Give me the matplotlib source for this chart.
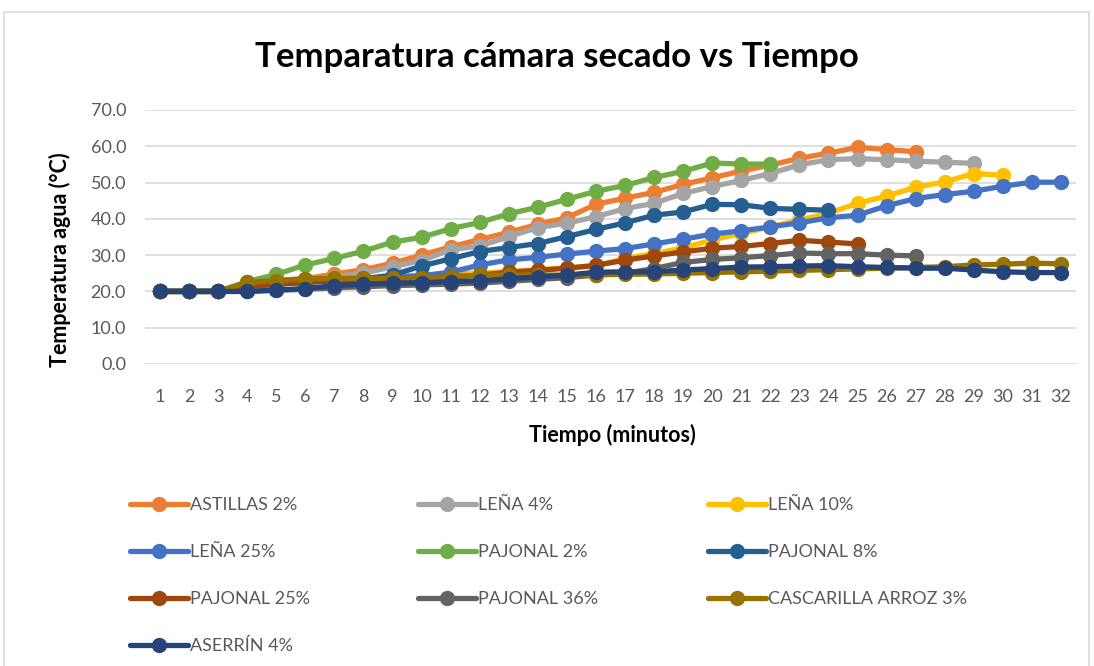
import matplotlib
matplotlib.use("Agg")
import matplotlib.pyplot as plt
from matplotlib.patches import Rectangle

plt.rcParams['font.family'] = ['Lato', 'DejaVu Sans']

minutes = list(range(1, 33))

astillas_2 = [20, 20, 20, 22.5, 23, 23.5, 24.8, 26, 27.8, 30, 32.3, 34.3, 36.3, 38.5, 40.3,
              44, 45.7, 47.3, 49.5, 51.3, 53.2, 54.8, 56.7, 58.1, 59.7, 59.1, 58.5]
lena_4 = [20, 20, 20, 22.3, 22.8, 23.3, 24, 25, 26.8, 28.5, 31.5, 32.5, 35.1, 37.6, 38.8,
          40.6, 42.8, 44.3, 47, 48.9, 50.6, 52.5, 54.9, 56.3, 56.6, 56.3, 55.9, 55.6, 55.3]
lena_10 = [20, 20, 20, 21.5, 22, 22.5, 23, 23.5, 24, 24.5, 25, 25, 25.5, 26, 26.5,
           27, 29.1, 30.4, 32, 34.2, 36, 37.8, 39.7, 41.5, 44.3, 46.3, 48.7, 50.2, 52.5, 52.0]
lena_25 = [20, 20, 20, 21.5, 22, 22.5, 23, 23.5, 24, 24.3, 25.3, 27.3, 28.7, 29.4, 30.3,
           31.1, 31.8, 33.1, 34.4, 35.8, 36.7, 37.8, 38.9, 40.3, 41, 43.6, 45.6, 46.7, 47.6,
           49, 50.1, 50.1]
pajonal_2 = [20, 20, 20, 22.7, 24.7, 27.3, 29.1, 31.1, 33.6, 34.9, 37.3, 39, 41.4, 43.2,
             45.4, 47.6, 49.2, 51.4, 53.1, 55.4, 55.1, 55.1]
pajonal_8 = [20, 20, 20, 21.5, 22, 22.5, 23, 23.5, 24.5, 27, 29, 31, 32.1, 33.2, 35.1,
             37.1, 38.9, 41, 41.9, 44, 43.9, 42.9, 42.6, 42.4]
pajonal_25 = [20, 20, 20, 21.5, 22, 22.7, 23, 23, 23.3, 23.7, 24, 24.5, 25.3, 25.8, 26.4,
              27.2, 28.6, 29.8, 30.9, 31.9, 32.4, 33.2, 34.1, 33.6, 33.1]
pajonal_36 = [20, 20, 20, 20, 20.3, 20.6, 21, 21.3, 21.6, 21.8, 22, 22.3, 22.8, 23.3, 23.8,
              24.5, 25, 26.3, 28, 28.8, 29.3, 29.9, 30.6, 30.4, 30.4, 30, 29.8]
cascarilla_3 = [20, 20, 20, 22.5, 23, 23.5, 23.6, 23.6, 23.6, 23.7, 24, 24.5, 24.5, 24.5,
                24.5, 24.6, 24.7, 24.8, 25, 25.2, 25.4, 25.6, 25.8, 26, 26.2, 26.4, 26.6,
                26.8, 27.3, 27.5, 27.8, 27.6]
aserrin_4 = [20, 20, 20, 20, 20.4, 20.8, 21.6, 22, 22.3, 22.4, 22.7, 22.9, 23.5, 24, 24.5,
             25.3, 25.4, 25.4, 25.9, 26.3, 26.7, 26.8, 27, 27.1, 26.8, 26.6, 26.4, 26.4,
             25.9, 25.4, 25.2, 25.2]

labels = ["ASTILLAS 2%", "LEÑA 4%", "LEÑA 10%", "LEÑA 25%", "PAJONAL 2%", "PAJONAL 8%",
          "PAJONAL 25%", "PAJONAL 36%", "CASCARILLA ARROZ 3%", "ASERRÍN 4%"]
series = [astillas_2, lena_4, lena_10, lena_25, pajonal_2, pajonal_8,
          pajonal_25, pajonal_36, cascarilla_3, aserrin_4]
colors = ["#ED7D31", "#A5A5A5", "#FFC000", "#4472C4", "#70AD47", "#255E91",
          "#9E480E", "#636363", "#997300", "#264478"]

W, H = 1094, 666
fig = plt.figure(figsize=(W / 100, H / 100), dpi=100)
fig.patches.append(Rectangle((4 / W, -0.01), (1089 - 4) / W, 1 - 12 / H + 0.01,
                             transform=fig.transFigure, fill=False,
                             edgecolor="#D9D9D9", linewidth=1.2))

ax = fig.add_axes([145.5 / W, 1 - 364 / H, (1075.5 - 145.5) / W, (364 - 110) / H])
ax.set_xlim(0.5, 32.5)
ax.set_ylim(0, 70)

handles = []
for vals, lab, col in zip(series, labels, colors):
    h, = ax.plot(minutes[:len(vals)], vals, color=col, linewidth=3.8, marker="o",
                 markersize=11, markeredgewidth=0, label=lab, solid_capstyle="round",
                 solid_joinstyle="round")
    handles.append(h)

ax.set_yticks(range(0, 71, 10))
ax.set_yticklabels([f"{v:.1f}" for v in range(0, 71, 10)])
ax.set_xticks(minutes)
ax.set_xticklabels([str(m) for m in minutes])
ax.tick_params(axis="both", length=0, labelsize=13, labelcolor="#595959")
ax.tick_params(axis="x", pad=18)
ax.tick_params(axis="y", pad=14)
ax.grid(axis="y", color="#D9D9D9", linewidth=1.2)
ax.set_axisbelow(True)
for s in ax.spines.values():
    s.set_visible(False)

fig.text(557 / W, 1 - 57 / H, "Temparatura cámara secado vs Tiempo", ha="center",
         va="center", fontsize=25, fontweight="bold", color="black")
fig.text(60 / W, 1 - 260 / H, "Temperatura agua (°C)", rotation=90, ha="center",
         va="center", fontsize=15.5, fontweight="bold", color="black")
fig.text(612 / W, 1 - 435 / H, "Tiempo (minutos)", ha="center", va="center",
         fontsize=15.5, fontweight="bold", color="black")

# legend laid out row by row in three fixed columns
col_x = [130, 418, 708]
for c in range(3):
    idx = list(range(c, len(handles), 3))
    leg = fig.legend([handles[i] for i in idx], [labels[i] for i in idx],
                     loc="upper left", bbox_to_anchor=(col_x[c] / W, 1 - 497 / H),
                     frameon=False, fontsize=13, handlelength=3.2, handletextpad=0.15,
                     labelspacing=1.72, borderpad=0, borderaxespad=0)
    for t in leg.get_texts():
        t.set_color("#595959")

fig.savefig("out.png", dpi=100)
